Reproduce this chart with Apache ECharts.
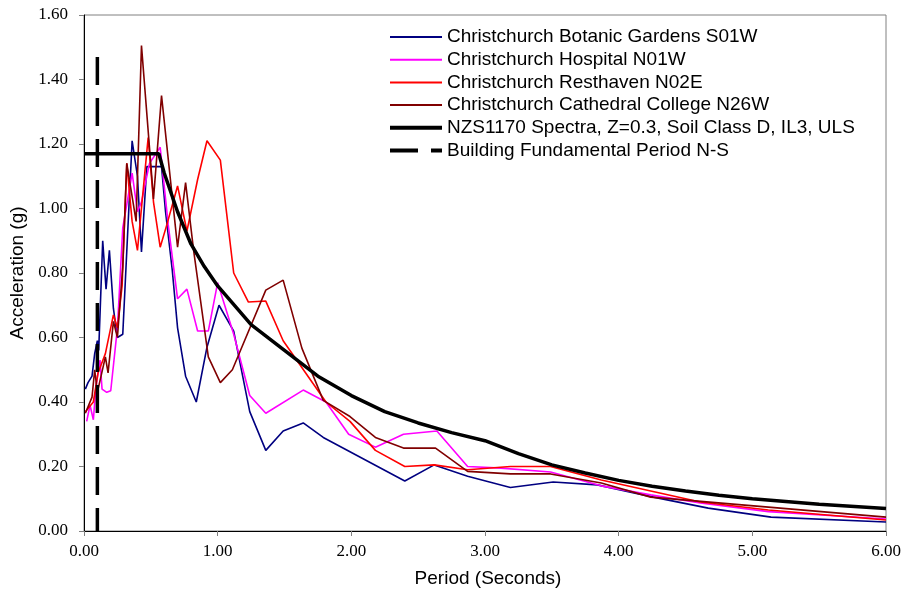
<!DOCTYPE html>
<html>
<head>
<meta charset="utf-8">
<script src="https://cdn.jsdelivr.net/npm/echarts@6/dist/echarts.min.js"></script>
<style>html,body{margin:0;padding:0;background:#fff}#c{width:904px;height:595px}</style>
</head>
<body>
<div id="c"></div>
<script>
const seriesNames = [
  'Christchurch Botanic Gardens S01W',
  'Christchurch Hospital N01W',
  'Christchurch Resthaven N02E',
  'Christchurch Cathedral College N26W',
  'NZS1170 Spectra, Z=0.3, Soil Class D, IL3, ULS',
  'Building Fundamental Period N-S'
];
const xTicks = [0, 1, 2, 3, 4, 5, 6];
const yTicks = [0, 0.2, 0.4, 0.6, 0.8, 1.0, 1.2, 1.4, 1.6];

const botanic = [
  [0.01,0.44],[0.03,0.46],[0.06,0.48],[0.08,0.55],[0.10,0.59],[0.11,0.56],[0.14,0.90],[0.165,0.75],
  [0.19,0.87],[0.22,0.69],[0.25,0.60],[0.29,0.61],[0.36,1.21],[0.40,1.10],[0.43,0.865],[0.47,1.13],
  [0.58,1.13],[0.61,0.99],[0.66,0.81],[0.70,0.63],[0.76,0.48],[0.84,0.40],[0.92,0.57],[1.01,0.70],
  [1.12,0.62],[1.24,0.37],[1.36,0.25],[1.49,0.31],[1.64,0.335],[1.79,0.29],[2.40,0.155],[2.62,0.205],
  [2.87,0.17],[3.19,0.135],[3.51,0.152],[3.84,0.143],[4.26,0.105],[4.67,0.071],[5.14,0.043],[6.0,0.028]
];
const hospital = [
  [0.02,0.34],[0.045,0.39],[0.07,0.345],[0.09,0.45],[0.12,0.53],[0.135,0.44],[0.17,0.43],[0.20,0.435],
  [0.25,0.63],[0.29,0.94],[0.36,1.11],[0.40,0.99],[0.43,1.02],[0.49,1.14],[0.57,1.19],[0.63,0.95],
  [0.70,0.72],[0.77,0.75],[0.85,0.62],[0.93,0.62],[1.00,0.77],[1.12,0.61],[1.24,0.42],[1.36,0.365],
  [1.64,0.437],[1.81,0.40],[1.98,0.30],[2.18,0.26],[2.39,0.30],[2.64,0.31],[2.87,0.20],[3.12,0.195],
  [3.49,0.183],[3.87,0.14],[4.24,0.112],[4.61,0.087],[5.12,0.06],[6.0,0.037]
];
const resthaven = [
  [0.01,0.37],[0.07,0.40],[0.105,0.49],[0.16,0.55],[0.22,0.67],[0.25,0.63],[0.285,0.76],[0.32,1.14],
  [0.36,0.96],[0.40,0.87],[0.48,1.22],[0.52,1.02],[0.57,0.88],[0.62,0.95],[0.70,1.07],[0.77,0.93],
  [0.85,1.09],[0.92,1.21],[1.02,1.15],[1.12,0.80],[1.23,0.71],[1.36,0.713],[1.49,0.59],[1.81,0.40],
  [1.99,0.34],[2.18,0.25],[2.40,0.20],[2.62,0.205],[2.87,0.19],[3.19,0.20],[3.49,0.20],[3.87,0.158],
  [4.61,0.09],[5.12,0.065],[6.0,0.034]
];
const cathedral = [
  [0.01,0.365],[0.06,0.415],[0.08,0.50],[0.10,0.43],[0.16,0.54],[0.18,0.49],[0.22,0.65],[0.25,0.60],
  [0.29,0.82],[0.32,1.14],[0.39,0.96],[0.43,1.505],[0.52,1.03],[0.58,1.35],[0.70,0.88],[0.76,1.08],
  [0.82,0.87],[0.93,0.54],[1.02,0.46],[1.11,0.50],[1.36,0.747],[1.49,0.778],[1.63,0.567],[1.79,0.405],
  [1.99,0.355],[2.18,0.29],[2.39,0.257],[2.63,0.257],[2.87,0.185],[3.19,0.177],[3.49,0.177],[3.87,0.149],
  [4.24,0.105],[5.12,0.074],[6.0,0.043]
];
const nzs1170 = [
  [0,1.17],[0.1,1.17],[0.2,1.17],[0.3,1.17],[0.4,1.17],[0.5,1.17],[0.56,1.17],[0.6,1.11],[0.7,0.99],
  [0.8,0.89],[0.9,0.82],[1.0,0.76],[1.25,0.64],[1.5,0.56],[1.75,0.48],[2.0,0.42],[2.25,0.37],[2.5,0.335],
  [2.75,0.305],[3.0,0.28],[3.25,0.24],[3.5,0.205],[3.75,0.18],[4.0,0.157],[4.25,0.139],[4.5,0.124],
  [4.75,0.111],[5.0,0.100],[5.5,0.083],[6.0,0.07]
];
const fundamentalPeriod = [[0.1,1.47],[0.1,0]];

const colors = ['#000080','#FF00FF','#FF0000','#800000','#000000','#000000'];
const widths = [1.6,1.6,1.6,1.6,3.5,3.5];
const legendWidths = [2,2,2,2,4,4];
const datasets = [botanic, hospital, resthaven, cathedral, nzs1170, fundamentalPeriod];
const dashPattern = [28, 13];

const chart = echarts.init(document.getElementById('c'), null, {renderer:'canvas'});
const serif = 'Liberation Serif, Times New Roman, serif';
const sans = 'Liberation Sans, Arial, sans-serif';
chart.setOption({
  animation: false,
  backgroundColor: '#fff',
  grid: {left: 84, top: 15, right: 18, bottom: 64, show: true, borderColor: '#808080', borderWidth: 1,
         outerBoundsMode: 'none', containLabel: false},
  legend: {
    orient: 'vertical', left: 383, top: 22,
    itemWidth: 52, itemHeight: 14, itemGap: 2.7,
    itemStyle: {color: 'transparent', borderColor: 'transparent', borderWidth: 0, opacity: 0},
    textStyle: {fontFamily: sans, fontSize: 19, color: '#000', lineHeight: 20},
    data: seriesNames.map((n, i) => ({
      name: n,
      lineStyle: {color: colors[i], width: legendWidths[i], type: i === 5 ? dashPattern : 'solid', cap: 'butt'}
    }))
  },
  xAxis: {
    type: 'value', min: xTicks[0], max: xTicks[xTicks.length-1], interval: 1,
    name: 'Period (Seconds)', nameLocation: 'middle', nameGap: 38,
    nameTextStyle: {fontFamily: sans, fontSize: 19, color: '#000', padding: [0, 0, 0, 6]},
    axisLine: {lineStyle: {color: '#000', width: 1}},
    axisTick: {show: true, inside: false, length: 5, lineStyle: {color: '#808080'}},
    axisLabel: {fontFamily: serif, fontSize: 17, color: '#000', margin: 12, formatter: v => v.toFixed(2)},
    splitLine: {show: false}
  },
  yAxis: {
    type: 'value', min: yTicks[0], max: yTicks[yTicks.length-1], interval: 0.2,
    name: 'Acceleration (g)', nameLocation: 'middle', nameGap: 55, nameRotate: 90,
    nameTextStyle: {fontFamily: sans, fontSize: 19, color: '#000'},
    axisLine: {show: true, lineStyle: {color: '#000', width: 1}},
    axisTick: {show: true, inside: false, length: 5, lineStyle: {color: '#808080'}},
    axisLabel: {fontFamily: serif, fontSize: 17, color: '#000', margin: 16, formatter: v => v.toFixed(2)},
    splitLine: {show: false}
  },
  series: datasets.map((d, i) => ({
    name: seriesNames[i],
    type: 'line',
    data: d,
    symbol: 'none',
    showSymbol: false,
    smooth: false,
    color: colors[i],
    lineStyle: {color: colors[i], width: widths[i], type: i === 5 ? dashPattern : 'solid', cap: 'butt'},
    z: 2 + i
  }))
});
</script>
</body>
</html>
